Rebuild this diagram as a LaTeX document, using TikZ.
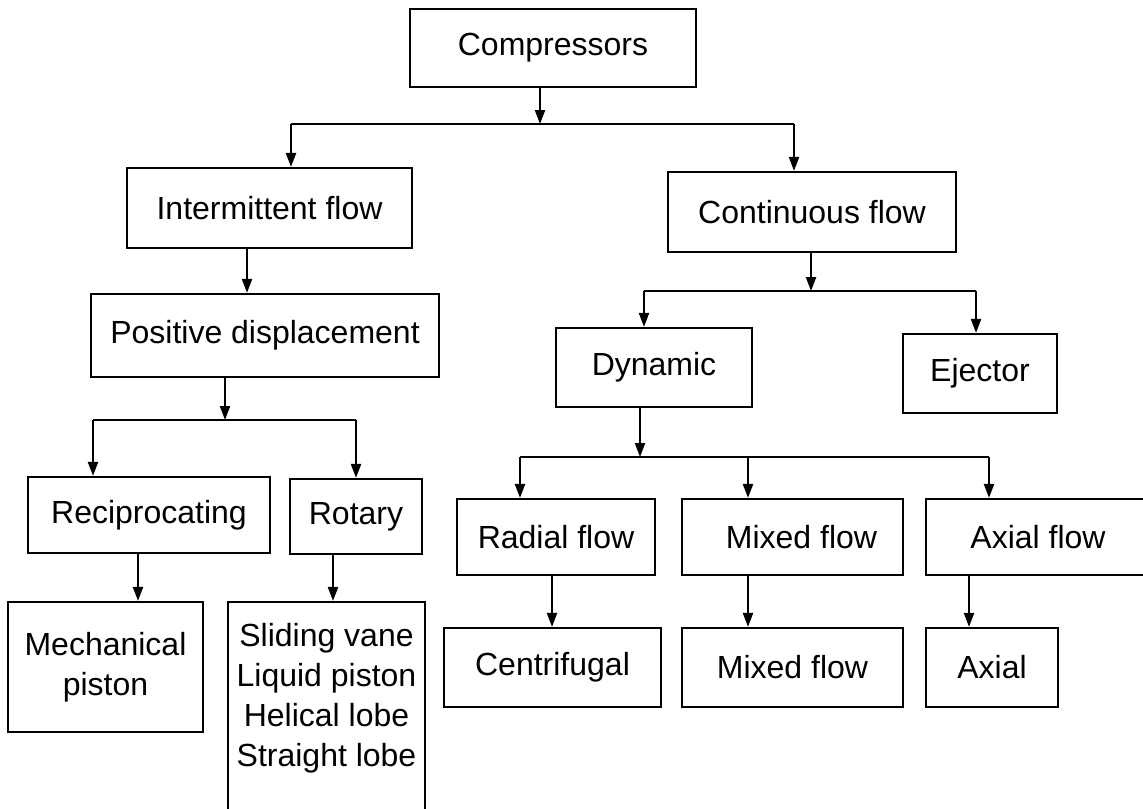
\documentclass[tikz,border=0pt]{standalone}
\usepackage{fontspec}
\setmainfont{Liberation Sans}
\usetikzlibrary{arrows.meta}

\begin{document}
\begin{tikzpicture}[x=0.5pt, y=-0.5pt,
	box/.style={draw, line width=1.1pt, rectangle, inner sep=0pt, align=center, font=\fontsize{16}{20}\selectfont},
	sz/.style 2 args={minimum width=#1*0.5pt, minimum height=#2*0.5pt},
	link/.style={line width=1.1pt},
	arr/.style={line width=1.1pt, -{Triangle[length=7pt, width=5pt]}}]
	\useasboundingbox (0,0) rectangle (1143,808);
	\clip (0,0) rectangle (1143,808);

	% Top level
	\node[box, sz={286}{78}] (comp) at (553,48) {Compressors};
	\node[box, sz={285}{80}] (inter) at (269.5,208) {Intermittent flow};
	\node[box, sz={288}{80}] (cont) at (812,212) {Continuous flow};

	% Intermittent branch
	\node[box, sz={348}{83}] (posd) at (265,335.5) {Positive displacement};
	\node[box, sz={242}{76}] (recip) at (149,515) {Reciprocating};
	\node[box, sz={132}{75}] (rot) at (356,516.5) {Rotary};
	\node[box, sz={195}{130}] (mech) at (105.5,667) {Mechanical\\piston};
	\node[box, sz={197}{226}] (rotlist) at (326.5,715) {Sliding vane\\Liquid piston\\Helical lobe\\Straight lobe\\ \mbox{}};

	% Continuous branch
	\node[box, sz={196}{79}] (dyn) at (654,367.5) {Dynamic};
	\node[box, sz={154}{79}] (ejec) at (980,373.5) {Ejector};
	\node[box, sz={198}{76}] (radial) at (556,537) {Radial flow};
	\node[box, sz={221}{76}] (mixed) at (792.5,537) {\hspace{9pt}Mixed flow};
	\node[box, sz={224}{76}] (axial) at (1038,537) {Axial flow};
	\node[box, sz={217}{79}] (centr) at (552.5,667.5) {Centrifugal};
	\node[box, sz={221}{79}] (mixedb) at (792.5,667.5) {Mixed flow};
	\node[box, sz={132}{79}] (axi) at (992,667.5) {Axial};

	% Split points
	\coordinate (j1) at (540,124);
	\coordinate (j1l) at (291,124);
	\coordinate (j1r) at (794,124);
	\coordinate (j2) at (811,291);
	\coordinate (j2l) at (644,291);
	\coordinate (j2r) at (976,291);
	\coordinate (j3) at (225,420);
	\coordinate (j3l) at (93,420);
	\coordinate (j3r) at (356,420);
	\coordinate (j4) at (640,457);
	\coordinate (j4l) at (520,457);
	\coordinate (j4m) at (748,457);
	\coordinate (j4r) at (989,457);

	% Compressors -> flow types
	\draw[arr] (comp.south -| j1) -- (j1);
	\draw[link] (j1l) -- (j1r);
	\draw[arr] (j1l) -- (j1l |- inter.north);
	\draw[arr] (j1r) -- (j1r |- cont.north);

	% Intermittent side
	\draw[arr] (inter.south -| 247,0) -- (posd.north -| 247,0);
	\draw[arr] (posd.south -| j3) -- (j3);
	\draw[link] (j3l) -- (j3r);
	\draw[arr] (j3l) -- (j3l |- recip.north);
	\draw[arr] (j3r) -- (j3r |- rot.north);
	\draw[arr] (recip.south -| 138,0) -- (mech.north -| 138,0);
	\draw[arr] (rot.south -| 333,0) -- (rotlist.north -| 333,0);

	% Continuous side
	\draw[arr] (cont.south -| j2) -- (j2);
	\draw[link] (j2l) -- (j2r);
	\draw[arr] (j2l) -- (j2l |- dyn.north);
	\draw[arr] (j2r) -- (j2r |- ejec.north);
	\draw[arr] (dyn.south -| j4) -- (j4);
	\draw[link] (j4l) -- (j4r);
	\draw[arr] (j4l) -- (j4l |- radial.north);
	\draw[arr] (j4m) -- (j4m |- mixed.north);
	\draw[arr] (j4r) -- (j4r |- axial.north);
	\draw[arr] (radial.south -| 552,0) -- (centr.north -| 552,0);
	\draw[arr] (mixed.south -| j4m) -- (mixedb.north -| j4m);
	\draw[arr] (axial.south -| 969,0) -- (axi.north -| 969,0);

\end{tikzpicture}
\end{document}
